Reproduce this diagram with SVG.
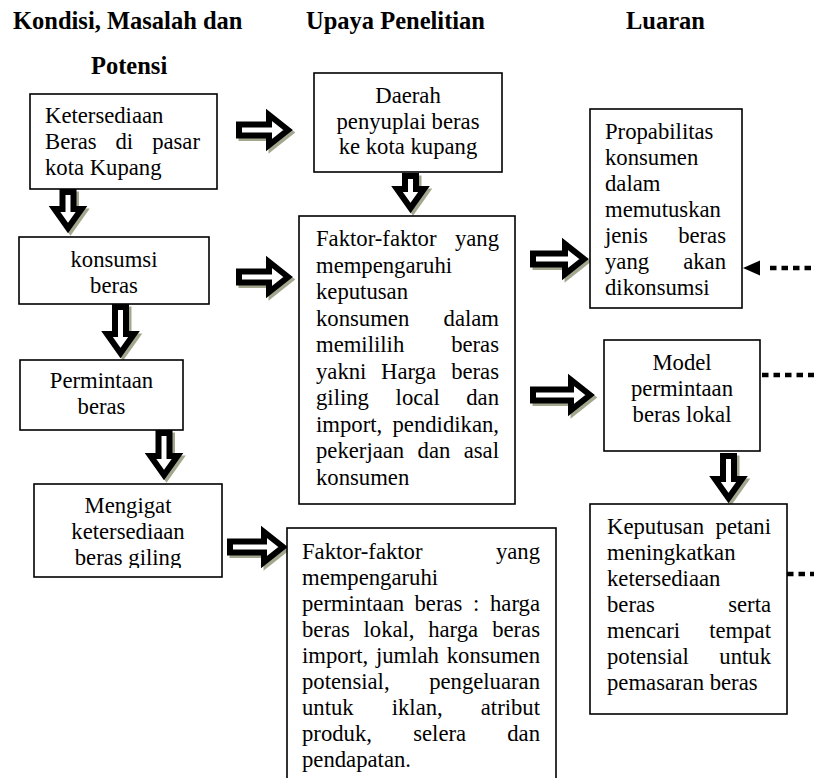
<svg xmlns="http://www.w3.org/2000/svg" width="814" height="778" viewBox="0 0 814 778">
<style>
.box{fill:#fff;stroke:#000;stroke-width:1.6}
.t{font-family:"Liberation Serif","Times New Roman",serif;font-size:22.7px;fill:#000}
.h{font-family:"Liberation Serif","Times New Roman",serif;font-size:24.5px;font-weight:bold;fill:#000}
.c{text-anchor:middle}
.e{text-anchor:end}
.arr{fill:#fff;stroke:#000;stroke-width:6;stroke-linejoin:miter}
.sh{fill:#a4a78e;stroke:#a4a78e;stroke-width:6;stroke-linejoin:miter}
.dot{fill:none;stroke:#000;stroke-width:4.5;stroke-dasharray:6.5 5}
</style>
<defs>
<clipPath id="clipF"><rect x="34" y="484" width="188" height="84"/></clipPath>
</defs>
<rect width="814" height="778" fill="#fff"/>

<g id="titles">
<text class="h" x="13" y="29">Kondisi, Masalah dan</text>
<text class="h" x="91" y="74">Potensi</text>
<text class="h" x="306" y="29">Upaya Penelitian</text>
<text class="h" x="626" y="29">Luaran</text>
</g>

<g id="connectors">
<g transform="translate(2.5,2.5)">
<path class="sh" d="M239 124.5 H269 V115 L288 130 L269 145 V135.5 H239 Z"/>
<path class="sh" d="M239 271.5 H269 V262 L288 277 L269 292 V282.5 H239 Z"/>
<path class="sh" d="M230 541.5 H264 V532 L283 547 L264 562 V552.5 H230 Z"/>
<path class="sh" d="M533 253.5 H565 V244 L584 259 L565 274 V264.5 H533 Z"/>
<path class="sh" d="M533 389.5 H571 V380 L590 395 L571 410 V400.5 H533 Z"/>
<path class="sh" d="M62.5 192 V209 H54.5 L68 228 L81.5 209 H73.5 V192 Z"/>
<path class="sh" d="M405 176 V189 H397 L410.5 208 L424 189 H416 V176 Z"/>
<path class="sh" d="M115 307 V334 H107 L120.5 353 L134 334 H126 V307 Z"/>
<path class="sh" d="M158.5 433 V456 H150.5 L164 475 L177.5 456 H169.5 V433 Z"/>
<path class="sh" d="M723 456 V479 H715 L728.5 498 L742 479 H734 V456 Z"/>
</g>
<path class="arr" d="M239 124.5 H269 V115 L288 130 L269 145 V135.5 H239 Z"/>
<path class="arr" d="M239 271.5 H269 V262 L288 277 L269 292 V282.5 H239 Z"/>
<path class="arr" d="M230 541.5 H264 V532 L283 547 L264 562 V552.5 H230 Z"/>
<path class="arr" d="M533 253.5 H565 V244 L584 259 L565 274 V264.5 H533 Z"/>
<path class="arr" d="M533 389.5 H571 V380 L590 395 L571 410 V400.5 H533 Z"/>
<path class="arr" d="M62.5 192 V209 H54.5 L68 228 L81.5 209 H73.5 V192 Z"/>
<path class="arr" d="M405 176 V189 H397 L410.5 208 L424 189 H416 V176 Z"/>
<path class="arr" d="M115 307 V334 H107 L120.5 353 L134 334 H126 V307 Z"/>
<path class="arr" d="M158.5 433 V456 H150.5 L164 475 L177.5 456 H169.5 V433 Z"/>
<path class="arr" d="M723 456 V479 H715 L728.5 498 L742 479 H734 V456 Z"/>
<path class="dot" d="M770 268 H814"/>
<polygon points="743,268 760,260.5 760,275.5" fill="#000"/>
<path class="dot" d="M762 375 H814"/>
<path class="dot" d="M787 574 H814"/>
</g>

<g id="nodeA">
<rect class="box" x="30" y="94" width="187" height="95"/>
<text class="t" x="45" y="123">Ketersediaan</text>
<text class="t" y="149"><tspan x="45">Beras</tspan><tspan x="115.5">di</tspan></text>
<text class="t e" x="200" y="149">pasar</text>
<text class="t" x="45" y="175">kota Kupang</text>
</g>

<g id="nodeB">
<rect class="box" x="314" y="73" width="188" height="99"/>
<text class="t c" x="408" y="103">Daerah</text>
<text class="t c" x="408" y="129">penyuplai beras</text>
<text class="t c" x="408" y="154">ke kota kupang</text>
</g>

<g id="nodeC">
<rect class="box" x="299" y="216" width="216" height="288"/>
<text class="t" x="316" y="246">Faktor-faktor</text><text class="t e" x="499" y="246">yang</text>
<text class="t" x="316" y="272.5">mempengaruhi</text>
<text class="t" x="316" y="299">keputusan</text>
<text class="t" x="316" y="325.5">konsumen</text><text class="t e" x="499" y="325.5">dalam</text>
<text class="t" x="316" y="352">memililih</text><text class="t e" x="499" y="352">beras</text>
<text class="t" y="378.5"><tspan x="316">yakni</tspan><tspan x="381">Harga</tspan></text><text class="t e" x="499" y="378.5">beras</text>
<text class="t" y="405"><tspan x="316">giling</tspan><tspan x="395.6">local</tspan></text><text class="t e" x="499" y="405">dan</text>
<text class="t" x="316" y="431.5">import,</text><text class="t e" x="499" y="431.5">pendidikan,</text>
<text class="t" y="458"><tspan x="316">pekerjaan</tspan><tspan x="417.6">dan</tspan></text><text class="t e" x="499" y="458">asal</text>
<text class="t" x="316" y="484.5">konsumen</text>
</g>

<g id="nodeD">
<rect class="box" x="19" y="237" width="190" height="67"/>
<text class="t c" x="114" y="267">konsumsi</text>
<text class="t c" x="114" y="293">beras</text>
</g>

<g id="nodeE">
<rect class="box" x="20" y="360" width="163" height="70"/>
<text class="t c" x="101.5" y="388">Permintaan</text>
<text class="t c" x="101.5" y="414">beras</text>
</g>

<g id="nodeF">
<rect class="box" x="34" y="484" width="188" height="93"/>
<text class="t c" x="128" y="513">Mengigat</text>
<text class="t c" x="128" y="539">ketersediaan</text>
<text class="t c" x="128" y="565" clip-path="url(#clipF)">beras giling</text>
</g>

<g id="nodeG">
<rect class="box" x="287" y="528" width="269" height="262"/>
<text class="t" x="302" y="559">Faktor-faktor</text><text class="t e" x="540" y="559">yang</text>
<text class="t" x="302" y="585">mempengaruhi</text>
<text class="t" y="611"><tspan x="302">permintaan</tspan><tspan x="414.5">beras</tspan><tspan x="472.9">:</tspan></text><text class="t e" x="540" y="611">harga</text>
<text class="t" y="637"><tspan x="302">beras</tspan><tspan x="363.5">lokal,</tspan><tspan x="428.2">harga</tspan></text><text class="t e" x="540" y="637">beras</text>
<text class="t" y="663"><tspan x="302">import,</tspan><tspan x="375.9">jumlah</tspan></text><text class="t e" x="540" y="663">konsumen</text>
<text class="t" x="302" y="689">potensial,</text><text class="t e" x="540" y="689">pengeluaran</text>
<text class="t" y="715"><tspan x="302">untuk</tspan><tspan x="391.7">iklan,</tspan></text><text class="t e" x="540" y="715">atribut</text>
<text class="t" y="741"><tspan x="302">produk,</tspan><tspan x="413.2">selera</tspan></text><text class="t e" x="540" y="741">dan</text>
<text class="t" x="302" y="767">pendapatan.</text>
</g>

<g id="nodeH">
<rect class="box" x="590" y="109" width="152" height="199"/>
<text class="t" x="605" y="139">Propabilitas</text>
<text class="t" x="605" y="165">konsumen</text>
<text class="t" x="605" y="191">dalam</text>
<text class="t" x="605" y="217">memutuskan</text>
<text class="t" x="605" y="243">jenis</text><text class="t e" x="726" y="243">beras</text>
<text class="t" x="605" y="269">yang</text><text class="t e" x="726" y="269">akan</text>
<text class="t" x="605" y="295">dikonsumsi</text>
</g>

<g id="nodeI">
<rect class="box" x="604" y="340" width="156" height="111"/>
<text class="t c" x="682" y="370">Model</text>
<text class="t c" x="682" y="396">permintaan</text>
<text class="t c" x="682" y="422">beras lokal</text>
</g>

<g id="nodeJ">
<rect class="box" x="590" y="504" width="197" height="210"/>
<text class="t" x="607" y="534">Keputusan</text><text class="t e" x="771" y="534">petani</text>
<text class="t" x="607" y="560">meningkatkan</text>
<text class="t" x="607" y="586">ketersediaan</text>
<text class="t" x="607" y="612">beras</text><text class="t e" x="771" y="612">serta</text>
<text class="t" x="607" y="638">mencari</text><text class="t e" x="771" y="638">tempat</text>
<text class="t" x="607" y="664">potensial</text><text class="t e" x="771" y="664">untuk</text>
<text class="t" x="607" y="690">pemasaran beras</text>
</g>
</svg>
